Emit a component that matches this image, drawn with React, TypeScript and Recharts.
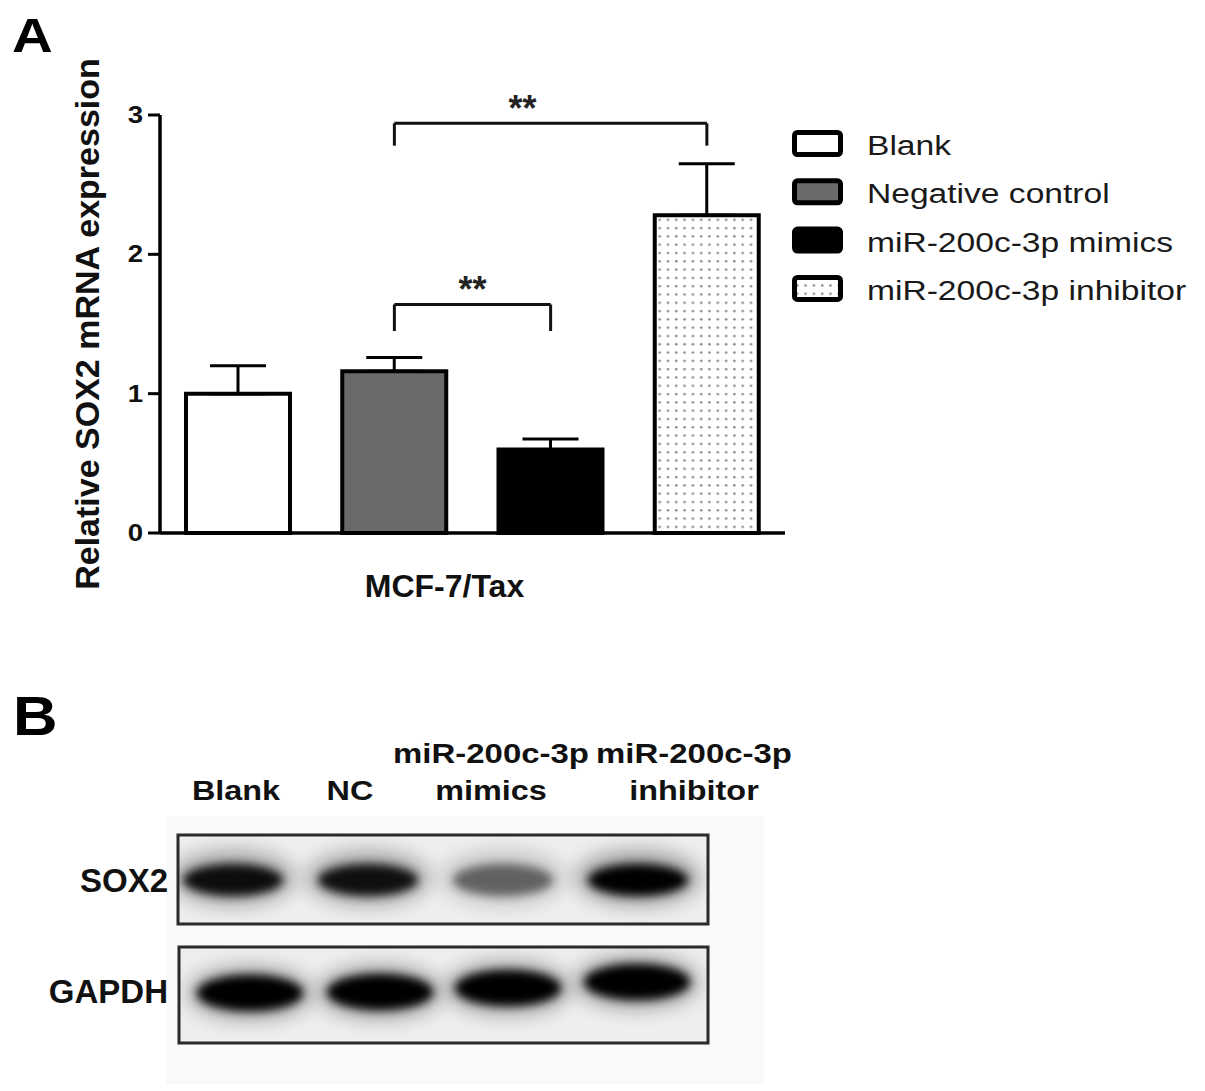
import React from 'react'
import { BarChart, Bar, Cell, XAxis, YAxis, ErrorBar, ReferenceLine } from 'recharts'

// ---- data ----
const groups = ['Blank', 'Negative control', 'miR-200c-3p mimics', 'miR-200c-3p inhibitor']
const expression = [1.0, 1.16, 0.6, 2.28]
const sem = [0.2, 0.1, 0.075, 0.37]
const yTicks = [0, 1, 2, 3]
const groupFills = ['#ffffff', '#6a6a6a', '#000000', 'url(#dotFill)']

// significance brackets (category from/to, bar height, drop length)
const bracketFrom = ['Negative control', 'Negative control']
const bracketTo = ['miR-200c-3p inhibitor', 'miR-200c-3p mimics']
const bracketY = [2.94, 1.64]
const bracketDrop = [0.16, 0.19]
const bracketText = ['**', '**']

// western blot (panel B)
const laneTop = ['', '', 'miR-200c-3p', 'miR-200c-3p']
const laneBottom = ['Blank', 'NC', 'mimics', 'inhibitor']
const sox2Level = [0.92, 0.9, 0.5, 1.0]
const gapdhLevel = [1.0, 1.0, 1.0, 1.0]

const FONT = '"Liberation Sans", Arial, Helvetica, sans-serif'

const chartData = groups.map((name, i) => ({
  name,
  value: expression[i],
  err: [0, sem[i]]
}))

const YTick = (props: any) => {
  const { x, y, payload } = props
  return (
    <text
      transform={`translate(${x}, ${y + 8}) scale(1.15, 1)`}
      textAnchor="end"
      fontFamily={FONT}
      fontWeight="bold"
      fontSize={24}
      fill="#111"
    >
      {payload.value}
    </text>
  )
}

const LegendBox = () => (
  <svg width={420} height={200} style={{ position: 'absolute', left: 785, top: 120 }}>
    {groups.map((g, i) => (
      <g key={g} transform={`translate(0, ${i * 48.3})`}>
        <rect x={9.5} y={12.5} width={46} height={22} rx={3} fill={groupFills[i]} stroke="#000" strokeWidth={5} />
        <text
          transform="translate(82, 35) scale(1.2, 1)"
          fontFamily={FONT}
          fontSize={28}
          fill="#1a1a1a"
        >
          {g}
        </text>
      </g>
    ))}
  </svg>
)

const Blot = () => {
  // lane geometry of the scanned film
  const soxX = [233, 368, 503, 638]
  const gapX = [250, 380, 508, 637]
  const gapY = [993, 992, 988, 982]
  const labelX = [236, 350, 491, 694]

  return (
    <svg width={1205} height={1091} style={{ position: 'absolute', left: 0, top: 0 }}>
      <defs>
        <filter id="blurSoft" x="-50%" y="-100%" width="200%" height="300%">
          <feGaussianBlur stdDeviation="10" />
        </filter>
        <filter id="blurCore" x="-50%" y="-100%" width="200%" height="300%">
          <feGaussianBlur stdDeviation="5" />
        </filter>
        <clipPath id="clipSox">
          <rect x={178} y={835} width={530} height={89} />
        </clipPath>
        <clipPath id="clipGap">
          <rect x={179} y={947} width={529} height={96} />
        </clipPath>
      </defs>

      <text transform="translate(13, 735) scale(1.1, 1)" fontFamily={FONT} fontWeight="bold" fontSize={56} fill="#000">
        B
      </text>

      {laneBottom.map((t, i) => (
        <g key={t}>
          {laneTop[i] && (
            <text
              transform={`translate(${labelX[i]}, 763) scale(1.22, 1)`}
              textAnchor="middle"
              fontFamily={FONT}
              fontWeight="bold"
              fontSize={27}
              fill="#111"
            >
              {laneTop[i]}
            </text>
          )}
          <text
            transform={`translate(${labelX[i]}, 800) scale(1.2, 1)`}
            textAnchor="middle"
            fontFamily={FONT}
            fontWeight="bold"
            fontSize={27}
            fill="#111"
          >
            {t}
          </text>
        </g>
      ))}

      <rect x={166} y={816} width={598} height={268} fill="#f9f9f9" />

      <text x={168} y={892} textAnchor="end" fontFamily={FONT} fontWeight="bold" fontSize={33} fill="#111">
        SOX2
      </text>
      <text x={168} y={1003} textAnchor="end" fontFamily={FONT} fontWeight="bold" fontSize={33} fill="#111">
        GAPDH
      </text>

      {/* SOX2 strip */}
      <rect x={178} y={835} width={530} height={89} fill="#eeeeee" />
      <g clipPath="url(#clipSox)">
        {sox2Level.map((lv, i) => (
          <g key={i}>
            <ellipse cx={soxX[i]} cy={878} rx={62} ry={27} fill="#000" opacity={0.35 * lv} filter="url(#blurSoft)" />
            <ellipse cx={soxX[i]} cy={880} rx={50} ry={16} fill="#000" opacity={lv} filter="url(#blurCore)" />
          </g>
        ))}
      </g>
      <rect x={178} y={835} width={530} height={89} fill="none" stroke="#2a2a2a" strokeWidth={3} />

      {/* GAPDH strip */}
      <rect x={179} y={947} width={529} height={96} fill="#eeeeee" />
      <g clipPath="url(#clipGap)">
        {gapdhLevel.map((lv, i) => (
          <g key={i}>
            <ellipse cx={gapX[i]} cy={gapY[i]} rx={62} ry={26} fill="#000" opacity={0.35 * lv} filter="url(#blurSoft)" />
            <ellipse cx={gapX[i]} cy={gapY[i]} rx={53} ry={18} fill="#000" opacity={lv} filter="url(#blurCore)" />
          </g>
        ))}
      </g>
      <rect x={179} y={947} width={529} height={96} fill="none" stroke="#2a2a2a" strokeWidth={3} />
    </svg>
  )
}

const App = () => {
  return (
    <div
      style={{
        position: 'absolute',
        left: 0,
        top: 0,
        width: 1205,
        height: 1091,
        background: '#ffffff',
        overflow: 'hidden',
        fontFamily: FONT
      }}
    >
      {/* shared fill pattern for the inhibitor bar */}
      <svg width={0} height={0} style={{ position: 'absolute' }}>
        <defs>
          <pattern id="dotFill" width={8.3} height={8.3} patternUnits="userSpaceOnUse">
            <rect width={8.3} height={8.3} fill="#ffffff" />
            <circle cx={4} cy={4} r={1.3} fill="#8a8a8a" />
          </pattern>
        </defs>
      </svg>

      <svg width={80} height={70} style={{ position: 'absolute', left: 0, top: 0 }}>
        <text transform="translate(12, 52) scale(1.15, 1)" fontFamily={FONT} fontWeight="bold" fontSize={49} fill="#000">
          A
        </text>
      </svg>

      <div style={{ position: 'absolute', left: 0, top: 0 }}>
        <BarChart
          width={800}
          height={620}
          data={chartData}
          margin={{ top: 115, right: 15, bottom: 23, left: 60 }}
          barSize={104}
        >
          <XAxis
            dataKey="name"
            height={64}
            tick={false}
            tickLine={false}
            axisLine={{ stroke: '#000', strokeWidth: 3.5 }}
            label={{
              value: 'MCF-7/Tax',
              position: 'insideBottom',
              offset: 0,
              dx: -28,
              fontFamily: FONT,
              fontSize: 32,
              fontWeight: 'bold',
              fill: '#111'
            }}
          />
          <YAxis
            width={100}
            domain={[0, 3]}
            ticks={yTicks}
            interval={0}
            tickSize={12}
            tickMargin={5}
            axisLine={{ stroke: '#000', strokeWidth: 3.5 }}
            tickLine={{ stroke: '#000', strokeWidth: 3 }}
            tick={YTick}
            label={{
              value: 'Relative SOX2 mRNA expression',
              angle: -90,
              position: 'insideLeft',
              offset: 27,
              fontFamily: FONT,
              fontSize: 34,
              fontWeight: 'bold',
              fill: '#111',
              style: { textAnchor: 'middle' }
            }}
          />
          <Bar dataKey="value" stroke="#000" strokeWidth={4} isAnimationActive={false}>
            {chartData.map((d, i) => (
              <Cell key={d.name} fill={groupFills[i]} />
            ))}
            <ErrorBar dataKey="err" width={28} strokeWidth={3} stroke="#000" direction="y" isAnimationActive={false} />
          </Bar>

          {bracketY.map((y, i) => (
            <ReferenceLine
              key={`h${i}`}
              segment={[
                { x: bracketFrom[i], y },
                { x: bracketTo[i], y }
              ]}
              stroke="#111"
              strokeWidth={3}
              label={{
                value: bracketText[i],
                position: 'top',
                offset: 2,
                dx: i === 0 ? -28 : 0,
                fontFamily: FONT,
                fontSize: 36,
                fontWeight: 'bold',
                fill: '#222'
              }}
            />
          ))}
          {bracketY.map((y, i) => (
            <ReferenceLine
              key={`l${i}`}
              segment={[
                { x: bracketFrom[i], y },
                { x: bracketFrom[i], y: y - bracketDrop[i] }
              ]}
              stroke="#111"
              strokeWidth={3}
            />
          ))}
          {bracketY.map((y, i) => (
            <ReferenceLine
              key={`r${i}`}
              segment={[
                { x: bracketTo[i], y },
                { x: bracketTo[i], y: y - bracketDrop[i] }
              ]}
              stroke="#111"
              strokeWidth={3}
            />
          ))}
        </BarChart>
      </div>

      <LegendBox />
      <Blot />
    </div>
  )
}

export default App
